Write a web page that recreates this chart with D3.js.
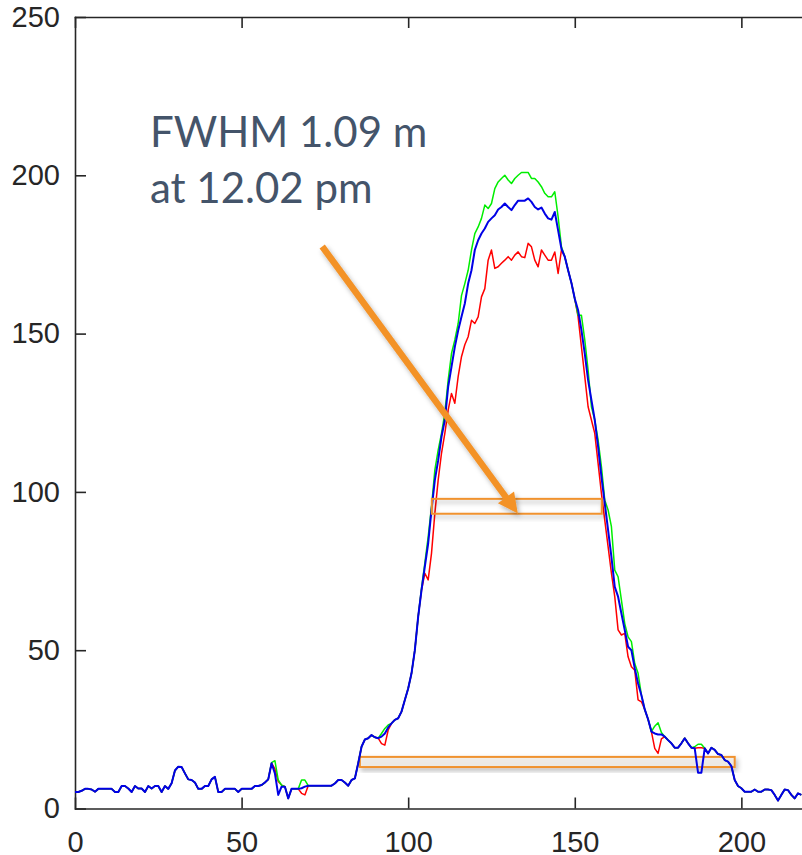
<!DOCTYPE html>
<html>
<style>
    body { margin: 0; background: #fff; }
    .axis path, .axis line { stroke: #262626; stroke-width: 1.6px; }
    .note { font-family: Lato, "Open Sans", sans-serif; font-size: 42px; fill: #44546A; }
</style>
<script src="https://d3js.org/d3.v7.min.js"></script>
<body>
<svg width="802" height="855"></svg>
<script>
    // profile values, one per sample (0..218)
    const blueVals = [
        5.2, 5.2, 5.6, 6.2, 6.2, 6.0, 5.3, 6.2, 6.2, 6.2,
        6.2, 6.2, 5.2, 5.2, 7.1, 7.1, 6.3, 5.2, 7.1, 6.3,
        6.3, 5.2, 7.1, 6.3, 7.1, 7.1, 5.2, 7.1, 6.2, 8.0,
        12.0, 13.2, 13.1, 11.1, 9.2, 9.0, 8.2, 6.2, 6.2, 7.1,
        7.1, 9.2, 10.0, 5.2, 5.2, 6.2, 6.2, 6.2, 6.2, 5.2,
        6.2, 6.2, 6.2, 6.2, 7.1, 7.1, 7.4, 8.2, 9.2, 14.3,
        11.1, 4.3, 6.9, 6.9, 3.2, 6.2, 6.2, 6.2, 6.4, 6.9,
        7.2, 7.2, 7.2, 7.2, 7.2, 7.2, 7.2, 7.2, 7.9, 9.0,
        9.0, 8.2, 7.2, 9.0, 9.5, 14.3, 19.5, 21.8, 22.2, 23.2,
        22.5, 22.2, 22.7, 23.7, 25.6, 26.9, 28.0, 28.5, 30.6, 34.3,
        37.9, 42.7, 50.0, 60.6, 69.0, 76.4, 83.7, 94.3, 103.7, 110.0,
        117.4, 122.7, 133.2, 139.5, 145.8, 151.0, 155.3, 159.5, 165.8, 170.0,
        176.4, 179.5, 181.6, 183.2, 185.3, 186.4, 187.4, 189.2, 190.0, 191.1,
        190.0, 189.0, 190.6, 192.0, 192.0, 192.0, 192.7, 191.6, 190.0, 189.2,
        189.8, 187.9, 186.4, 186.0, 188.4, 182.6, 176.8, 174.3, 170.0, 166.0,
        161.0, 157.4, 151.1, 143.7, 135.3, 129.0, 122.7, 114.3, 104.8, 96.4,
        87.9, 79.5, 70.0, 66.9, 61.6, 56.4, 51.1, 50.0, 44.3, 39.5,
        35.8, 31.3, 28.2, 24.3, 23.7, 23.4, 23.4, 22.7, 21.6, 20.6,
        19.2, 19.2, 20.6, 22.2, 20.6, 19.2, 19.0, 11.3, 11.3, 19.0,
        17.4, 19.2, 18.5, 17.2, 16.9, 15.3, 14.8, 13.4, 9.0, 7.1,
        6.4, 5.3, 5.3, 5.3, 6.0, 5.3, 5.3, 6.0, 6.0, 5.8,
        4.3, 2.5, 4.3, 6.0, 5.8, 4.3, 3.2, 4.8, 4.3
    ];
    const greenVals = [
        5.2, 5.2, 5.6, 6.2, 6.2, 6.0, 5.3, 6.2, 6.2, 6.2,
        6.2, 6.2, 5.2, 5.2, 7.1, 7.1, 6.3, 5.2, 7.1, 6.3,
        6.3, 5.2, 7.1, 6.3, 7.1, 7.1, 5.2, 7.1, 6.2, 8.0,
        12.0, 13.2, 13.1, 11.1, 9.2, 9.0, 8.2, 6.2, 6.2, 7.1,
        7.1, 9.2, 10.0, 5.2, 5.2, 6.2, 6.2, 6.2, 6.2, 5.2,
        6.2, 6.2, 6.2, 6.2, 7.1, 7.1, 7.4, 8.2, 9.2, 14.5,
        15.1, 9.0, 7.4, 6.9, 3.2, 6.2, 6.2, 6.2, 9.0, 9.0,
        7.2, 7.2, 7.2, 7.2, 7.2, 7.2, 7.2, 7.2, 7.9, 9.0,
        9.0, 8.2, 7.2, 9.0, 9.5, 14.3, 19.5, 21.8, 22.2, 23.2,
        22.5, 22.2, 23.7, 25.3, 26.4, 26.9, 28.0, 28.5, 30.6, 34.3,
        37.9, 42.7, 50.0, 60.6, 69.5, 77.5, 85.8, 95.3, 106.9, 113.2,
        118.5, 124.8, 135.3, 143.7, 148.0, 153.2, 162.0, 165.8, 170.0, 176.4,
        181.6, 183.7, 186.4, 190.6, 189.5, 191.1, 195.8, 197.9, 199.0, 200.0,
        198.5, 197.4, 199.0, 200.0, 200.9, 200.9, 200.9, 199.0, 199.0, 197.9,
        196.4, 194.3, 193.2, 193.2, 194.8, 186.9, 177.4, 174.3, 170.0, 166.0,
        161.0, 155.8, 155.8, 148.0, 138.5, 126.9, 122.7, 116.4, 108.0, 97.4,
        94.3, 89.0, 75.3, 73.2, 65.8, 58.4, 54.2, 52.7, 45.8, 42.7,
        35.8, 31.3, 28.2, 24.3, 26.0, 27.1, 24.0, 22.7, 21.6, 20.6,
        19.2, 19.2, 20.6, 22.2, 20.6, 19.2, 19.5, 20.3, 20.3, 19.0,
        17.4, 19.2, 18.5, 17.2, 16.9, 15.3, 14.8, 13.4, 9.0, 7.1,
        6.4, 5.3, 5.3, 5.3, 6.0, 5.3, 5.3, 6.0, 6.0, 5.8,
        4.3, 2.5, 4.3, 6.0, 5.8, 4.3, 3.2, 4.8, 4.3
    ];
    const redVals = [
        5.2, 5.2, 5.6, 6.2, 6.2, 6.0, 5.3, 6.2, 6.2, 6.2,
        6.2, 6.2, 5.2, 5.2, 7.1, 7.1, 6.3, 5.2, 7.1, 6.3,
        6.3, 5.2, 7.1, 6.3, 7.1, 7.1, 5.2, 7.1, 6.2, 8.0,
        12.0, 13.2, 13.1, 11.1, 9.2, 9.0, 8.2, 6.2, 6.2, 7.1,
        7.1, 9.2, 10.0, 5.2, 5.2, 6.2, 6.2, 6.2, 6.2, 5.2,
        6.2, 6.2, 6.2, 6.2, 7.1, 7.1, 7.4, 8.2, 9.2, 14.3,
        12.5, 8.5, 7.4, 6.9, 3.2, 6.2, 6.2, 6.2, 4.8, 4.3,
        7.2, 7.2, 7.2, 7.2, 7.2, 7.2, 7.2, 7.2, 7.9, 9.0,
        9.0, 8.2, 7.2, 9.0, 9.5, 14.3, 19.5, 21.8, 22.2, 23.2,
        22.5, 22.2, 20.5, 20.0, 24.8, 26.9, 28.0, 28.5, 30.6, 34.3,
        37.9, 42.7, 50.0, 60.6, 69.0, 74.3, 72.2, 80.6, 93.2, 103.7,
        112.2, 118.5, 125.8, 131.1, 128.0, 136.4, 142.7, 146.5, 149.0, 154.2,
        153.2, 155.3, 161.6, 164.2, 173.2, 176.4, 170.6, 171.1, 172.2, 173.2,
        174.3, 173.2, 174.8, 175.8, 174.3, 174.0, 178.5, 177.4, 173.2, 171.1,
        176.4, 174.8, 173.2, 173.2, 175.8, 169.0, 176.4, 174.3, 170.0, 166.0,
        161.0, 155.3, 145.8, 136.4, 126.9, 122.7, 118.5, 109.0, 99.5, 91.1,
        82.7, 74.3, 66.9, 56.4, 54.8, 55.3, 47.9, 44.8, 43.7, 34.3,
        33.7, 31.3, 28.2, 24.3, 19.0, 17.4, 22.0, 22.7, 21.6, 20.6,
        19.2, 19.2, 20.6, 22.2, 20.6, 19.2, 19.0, 19.2, 19.2, 19.0,
        17.4, 19.2, 18.5, 17.2, 16.9, 15.3, 14.8, 13.4, 9.0, 7.1,
        6.4, 5.3, 5.3, 5.3, 6.0, 5.3, 5.3, 6.0, 6.0, 5.8,
        4.3, 2.5, 4.3, 6.0, 5.8, 4.3, 3.2, 4.8, 4.3
    ];
    const xTicks = [0, 50, 100, 150, 200];
    const yTicks = [0, 50, 100, 150, 200, 250];
    const noteLines = ["FWHM 1.09 m", "at 12.02 pm"];

    const svg = d3.select("svg");
    const x = d3.scaleLinear().domain([0, 220]).range([75, 808]);
    const y = d3.scaleLinear().domain([0, 250]).range([808.5, 17]);

    const defs = svg.append("defs");
    defs.append("filter").attr("id", "shadow")
        .attr("x", "-20%").attr("y", "-50%").attr("width", "140%").attr("height", "200%")
        .append("feDropShadow")
        .attr("dx", 2).attr("dy", 3).attr("stdDeviation", 2.5)
        .attr("flood-color", "#000").attr("flood-opacity", 0.3);

    // axes: ticks point inward, box on top
    const gx = svg.append("g").attr("class", "axis")
        .attr("transform", `translate(0,${y(0)})`)
        .call(d3.axisBottom(x).tickValues(xTicks).tickSizeInner(-11).tickSizeOuter(0).tickPadding(23));
    svg.append("g").attr("class", "axis")
        .attr("transform", `translate(0,${y(250)})`)
        .call(d3.axisTop(x).tickValues(xTicks).tickSizeInner(-11).tickSizeOuter(0).tickFormat(""));
    const gy = svg.append("g").attr("class", "axis")
        .attr("transform", `translate(${x(0)},0)`)
        .call(d3.axisLeft(y).tickValues(yTicks).tickSizeInner(-11).tickSizeOuter(0).tickPadding(15));
    [gx, gy].forEach(g => g
        .attr("font-family", "'Liberation Sans', Arial, sans-serif")
        .attr("font-size", 29)
        .selectAll("text").attr("fill", "#262626"));
    svg.selectAll(".axis .domain").attr("stroke-linecap", "square");

    // shaded band near the base
    svg.append("rect")
        .attr("x", x(85.5)).attr("y", y(16.3))
        .attr("width", x(198) - x(85.5)).attr("height", y(13.1) - y(16.3))
        .attr("fill", "#efebe6").attr("fill-opacity", 0.7)
        .attr("stroke", "#F0922E").attr("stroke-width", 2)
        .attr("filter", "url(#shadow)");

    const line = d3.line().x((d, i) => x(i)).y(d => y(d));
    const series = [
        {vals: redVals, color: "#ff0000", w: 1.5},
        {vals: greenVals, color: "#00ee00", w: 1.5},
        {vals: blueVals, color: "#0000e6", w: 2}
    ];
    svg.append("g").selectAll("path")
        .data(series)
        .join("path")
        .attr("d", d => line(d.vals))
        .attr("fill", "none")
        .attr("stroke", d => d.color)
        .attr("stroke-width", d => d.w)
        .attr("stroke-linejoin", "round");

    // half maximum box
    svg.append("rect")
        .attr("x", x(107.1)).attr("y", y(97.8))
        .attr("width", x(158.1) - x(107.1)).attr("height", y(93.1) - y(97.8))
        .attr("fill", "none")
        .attr("stroke", "#F0922E").attr("stroke-width", 2)
        .attr("filter", "url(#shadow)");

    // arrow
    const a0 = [x(74.2), y(177.5)], a1 = [x(132.9), y(93.2)];
    const dx = a1[0] - a0[0], dy = a1[1] - a0[1], len = Math.hypot(dx, dy);
    const ux = dx / len, uy = dy / len;
    const headL = 20, headW = 10;
    const base = [a1[0] - ux * headL, a1[1] - uy * headL];
    const arrow = svg.append("g").attr("filter", "url(#shadow)");
    arrow.append("line")
        .attr("x1", a0[0]).attr("y1", a0[1])
        .attr("x2", base[0] + ux * 2).attr("y2", base[1] + uy * 2)
        .attr("stroke", "#F39228").attr("stroke-width", 6.5);
    arrow.append("polygon")
        .attr("points", [
            a1,
            [base[0] - uy * headW, base[1] + ux * headW],
            [base[0] + uy * headW, base[1] - ux * headW]
        ].map(p => p.join(",")).join(" "))
        .attr("fill", "#F39228");

    svg.append("g").selectAll("text")
        .data(noteLines)
        .join("text")
        .attr("class", "note")
        .attr("x", x(22.5))
        .attr("y", (d, i) => y(208.9 - i * 17.6))
        .text(d => d);
</script>
</body>
</html>
